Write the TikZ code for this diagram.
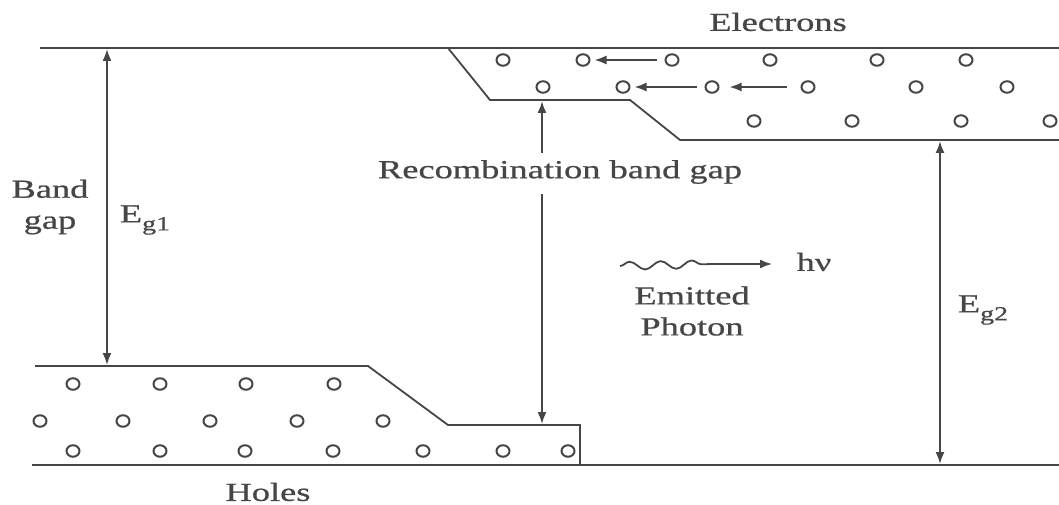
\documentclass[tikz,border=0pt]{standalone}
\usepackage{fontspec}
\setmainfont{Liberation Serif}[FakeStretch=1.4,FakeBold=0.8]
\usetikzlibrary{arrows.meta,shapes.geometric,decorations.pathmorphing}
\definecolor{ink}{RGB}{70,70,70}
\newcommand{\subtxt}[1]{\raisebox{-8pt}{\fontsize{20}{20}\selectfont #1}}
\begin{document}
\begin{tikzpicture}[x=1pt,y=-1pt,
  line/.style={draw=ink, line width=1.8pt},
  arr/.style={line, -{Latex[length=12pt,width=9pt]}},
  dbl/.style={line, {Latex[length=12pt,width=9pt]}-{Latex[length=12pt,width=9pt]}},
  dot/.style={ellipse, draw=ink, line width=2pt, minimum width=13pt, minimum height=11.5pt, inner sep=0pt},
  lbl/.style={text=ink, font=\fontsize{26}{31}\selectfont, inner sep=0pt, align=center}]
\useasboundingbox (0,0) rectangle (1059,505);
% band edges
\draw[line] (40,48) -- (1059,48);
\draw[line] (448,48) -- (490,100) -- (630,100) -- (680,140) -- (1059,140);
\draw[line] (35,366) -- (368,366) -- (448,425) -- (580,425) -- (580,465);
\draw[line] (32,465) -- (1059,465);
% electrons
\foreach \x [count=\i] in {503,583,672,770,877,966} \node[dot] (e1-\i) at (\x,60) {};
\foreach \x [count=\i] in {543,623,712,808,916,1007} \node[dot] (e2-\i) at (\x,87) {};
\foreach \x [count=\i] in {754,852,961,1050} \node[dot] (e3-\i) at (\x,121) {};
% holes
\foreach \x [count=\i] in {73,160,246,334} \node[dot] (h1-\i) at (\x,384) {};
\foreach \x [count=\i] in {40,123,210,297,383} \node[dot] (h2-\i) at (\x,421) {};
\foreach \x [count=\i] in {73,160,245,333,423,503,568} \node[dot] (h3-\i) at (\x,451) {};
% electron drift arrows
\draw[arr, shorten <=8pt, shorten >=4pt] (e1-3) -- (e1-2);
\draw[arr, shorten <=8pt, shorten >=4pt] (e2-3) -- (e2-2);
\draw[arr, shorten <=14pt, shorten >=10pt] (e2-4) -- (e2-3);
% labels
\node[lbl] (el) at (778,22) {Electrons};
\node[lbl] (ho) at (268,492) {Holes};
\node[lbl] (bg) at (50,207) {Band\\gap};
\node[lbl] (eg1) at (145,220) {E\subtxt{g1}};
\node[lbl] (eg2) at (983,310) {E\subtxt{g2}};
\node[lbl] (rec) at (560,172) {Recombination band gap};
\node[lbl] (hv) at (814,262) {hν};
\node[lbl] (ep) at (692,311) {Emitted\\Photon};
% band-gap arrows
\coordinate (g1t) at (107,49);
\coordinate (g1b) at (107,365);
\draw[dbl] (g1t) -- (g1b);
\coordinate (g2t) at (940,141);
\coordinate (g2b) at (940,464);
\draw[dbl] (g2t) -- (g2b);
% recombination arrows
\coordinate (rt) at (542,101);
\coordinate (rb) at (542,424);
\draw[arr] ([yshift=7pt]rec.north -| rt) -- (rt);
\draw[arr] ([yshift=-10pt]rec.south -| rb) -- (rb);
% photon
\coordinate (p0) at (620,266);
\coordinate (p1) at (714,264);
\coordinate (p2) at (772,264);
\draw[line, decorate, decoration={snake, segment length=31pt, amplitude=4pt}] (p0) -- (p1);
\draw[arr] (p1) -- (p2);
\end{tikzpicture}
\end{document}
